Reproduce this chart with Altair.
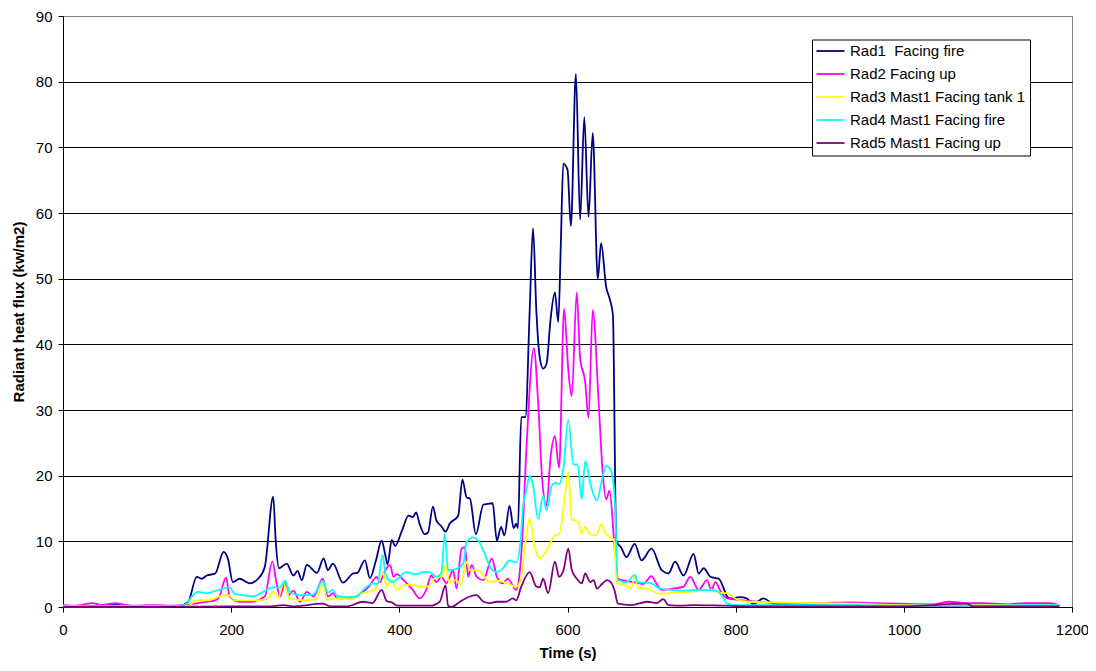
import altair as alt
import pandas as pd

series_names = [
    "Rad1\u00a0 Facing fire",
    "Rad2 Facing up",
    "Rad3 Mast1 Facing tank 1",
    "Rad4 Mast1 Facing fire",
    "Rad5 Mast1 Facing up",
]
series_colors = ["#000080", "#FF00FF", "#FFFF00", "#00FFFF", "#800080"]

x_ticks = [0, 200, 400, 600, 800, 1000, 1200]
y_ticks = [0, 10, 20, 30, 40, 50, 60, 70, 80, 90]

# (time s, radiant heat flux kW/m2)
rad1 = [(0, 0.2), (20, 0.1), (40, 0.2), (60, 0.4), (79, 0.1), (99, 0.2), (119, 0.1), (139, 0.2),
        (149, 0.8), (159, 4.6), (165, 4.3), (171, 4.8), (181, 5.1), (191, 8.4), (196, 7.4), (202, 3.8),
        (210, 4.3), (222, 3.6), (232, 4.3), (240, 6.1), (250, 16.8), (253, 10), (257, 5.9), (266, 6.6),
        (274, 4.8), (279, 5.5), (284, 4.1), (290, 6.4), (302, 5.2), (310, 7.4), (315, 5.6), (321, 6.6),
        (333, 3.7), (345, 5.1), (350, 5.2), (359, 7.1), (365, 4.4), (372, 7.0), (379, 10.1), (383, 8.1),
        (386, 6.5), (391, 10.2), (395, 9.3), (403, 11.6), (411, 13.9), (416, 13.7), (420, 14.4), (424, 12.7),
        (430, 11.1), (434, 11.3), (440, 15.3), (444, 13.2), (450, 12.3), (455, 11.5), (460, 12.7), (470, 13.9),
        (475, 19.4), (480, 16.7), (484, 16.5), (491, 11.1), (500, 15.6), (505, 15.7), (511, 15.8), (516, 10.1),
        (521, 12.2), (525, 10.9), (531, 15.4), (536, 12.0), (539, 12.7), (541, 12.0), (545, 28.9), (550, 28.9),
        (555, 45), (559, 57.7), (563, 45), (567, 38), (571, 36.3), (575, 37), (580, 44), (585, 47.9),
        (589, 43.4), (592, 55), (595, 67.5), (600, 66.6), (604, 58), (610, 81.2), (615, 59), (620, 74.6),
        (625, 59.4), (630, 72.2), (636, 50), (640, 55.4), (646, 48.7), (650, 47), (654, 44.5), (658, 10.1),
        (664, 9), (670, 7.6), (680, 9.6), (688, 7.1), (700, 8.9), (712, 5.6), (720, 5.1), (728, 6.9),
        (738, 4.8), (750, 8.1), (756, 5.1), (762, 5.9), (770, 4.6), (780, 4.3), (785, 3.1), (789, 1.8),
        (793, 1.3), (805, 1.5), (813, 1.3), (821, 0.45), (833, 1.3), (845, 0.5), (865, 0.3), (895, 0.3),
        (944, 0.2), (994, 0.2), (1044, 0.2), (1094, 0.2), (1143, 0.2), (1185, 0.2)]

rad2 = [(0, 0.3), (15, 0.2), (30, 0.5), (36, 0.6), (45, 0.3), (62, 0.6), (75, 0.3), (90, 0.2),
        (109, 0.3), (129, 0.2), (144, 0.3), (161, 0.6), (171, 0.8), (181, 1.0), (186, 1.6), (194, 4.5),
        (198, 1.6), (210, 0.8), (223, 0.8), (240, 1.6), (249, 6.9), (254, 3.6), (258, 1.6), (264, 3.6),
        (268, 1.8), (274, 2.5), (282, 0.8), (290, 2.3), (298, 1.6), (309, 4.3), (315, 1.6), (321, 2.1),
        (326, 1.3), (338, 1.3), (349, 1.6), (357, 2.3), (365, 3.3), (373, 4.6), (377, 3.8), (381, 5.0),
        (389, 6.4), (393, 4.6), (397, 5.0), (405, 4.1), (416, 2.6), (424, 1.3), (432, 2.6), (438, 4.8),
        (444, 3.8), (450, 4.6), (456, 3.6), (464, 5.6), (468, 2.8), (474, 8.9), (478, 9.1), (482, 4.6),
        (486, 6.4), (492, 4.6), (500, 4.1), (510, 7.4), (516, 4.6), (523, 3.6), (529, 4.3), (539, 2.6),
        (542, 4.0), (546, 10), (551, 23.7), (560, 39.4), (565, 31.3), (570, 19.2), (575, 15.4), (580, 23),
        (585, 26), (590, 21.2), (596, 45.4), (601, 36), (605, 32.1), (611, 47.9), (615, 37.9), (621, 34.3),
        (625, 28.8), (630, 45.2), (637, 31.3), (642, 20.2), (646, 16.4), (650, 17.7), (656, 9.1), (660, 4.3),
        (668, 4.0), (678, 3.8), (690, 3.5), (700, 4.7), (706, 3.5), (712, 2.6), (726, 2.8), (738, 3.1),
        (746, 4.6), (756, 2.6), (766, 4.1), (771, 2.6), (776, 3.8), (782, 2.4), (790, 1.3), (802, 1.1),
        (825, 0.8), (855, 0.6), (895, 0.6), (935, 0.7), (965, 0.6), (994, 0.5), (1034, 0.4), (1054, 0.8),
        (1074, 0.6), (1094, 0.6), (1123, 0.4), (1143, 0.6), (1173, 0.6), (1185, 0.3)]

rad3 = [(0, 0.1), (50, 0.1), (99, 0.1), (149, 0.2), (159, 1.0), (171, 1.0), (186, 1.6), (196, 1.8),
        (206, 1.0), (228, 1.0), (243, 1.2), (250, 2.3), (256, 1.4), (262, 3.6), (270, 1.3), (288, 1.0),
        (301, 1.2), (309, 3.6), (314, 1.1), (323, 1.3), (343, 1.2), (357, 2.1), (370, 2.6), (381, 5.1),
        (385, 3.1), (391, 4.1), (397, 2.6), (405, 3.3), (414, 3.4), (424, 3.1), (434, 3.1), (444, 4.6),
        (450, 4.6), (455, 6.4), (459, 3.8), (467, 4.1), (473, 3.4), (480, 6.9), (484, 5.6), (494, 5.6),
        (500, 4.8), (508, 3.8), (516, 4.0), (524, 3.8), (539, 3.1), (544, 4.0), (550, 10), (555, 13.4),
        (561, 9.1), (567, 7.4), (575, 8.6), (585, 10.9), (590, 11.1), (596, 15.7), (601, 20.5), (605, 13.4),
        (613, 12.9), (617, 11.2), (621, 12.2), (627, 11.1), (634, 10.9), (640, 12.6), (646, 11.1), (651, 10.6),
        (655, 10.3), (659, 3.6), (668, 3.4), (676, 2.8), (680, 4.6), (684, 2.9), (695, 2.8), (710, 2.0),
        (726, 2.2), (746, 2.3), (770, 2.6), (780, 2.2), (790, 2.1), (802, 1.1), (815, 0.8), (845, 0.7),
        (895, 0.6), (944, 0.5), (994, 0.3), (1044, 0.3), (1094, 0.3), (1143, 0.3), (1185, 0.3)]

rad4 = [(0, 0.2), (30, 0.1), (60, 0.2), (89, 0.1), (119, 0.1), (144, 0.3), (157, 2.1), (161, 2.3),
        (171, 2.1), (182, 2.5), (190, 2.8), (198, 3.0), (204, 2.0), (214, 1.8), (226, 1.6), (238, 2.3),
        (250, 3.0), (258, 3.0), (264, 4.0), (270, 2.2), (282, 1.8), (298, 1.9), (309, 4.0), (315, 2.2),
        (321, 2.6), (326, 1.7), (338, 1.5), (349, 1.6), (357, 2.6), (369, 3.6), (374, 3.5), (380, 7.9),
        (384, 4.8), (392, 3.8), (400, 4.5), (408, 5.3), (420, 5.0), (428, 5.3), (436, 5.3), (444, 4.6),
        (450, 5.2), (454, 11.1), (458, 5.6), (468, 5.8), (476, 6.6), (480, 9.9), (488, 10.6), (494, 10.1),
        (500, 8.6), (508, 6.1), (516, 5.3), (524, 6.0), (531, 7.1), (539, 6.8), (544, 9.9), (547, 15.2),
        (551, 17.7), (555, 20.0), (559, 18.5), (565, 13.4), (571, 16.9), (575, 14.7), (581, 18.4), (585, 18.9),
        (590, 18.7), (595, 21.0), (601, 28.5), (607, 21.7), (612, 21.7), (617, 16.4), (621, 22.2), (627, 18.9),
        (630, 17.5), (635, 16.2), (641, 19.4), (646, 21.5), (651, 21.0), (656, 16.7), (660, 4.1), (670, 3.8),
        (680, 4.9), (684, 3.8), (700, 3.6), (710, 2.8), (738, 2.5), (758, 2.6), (776, 2.5), (785, 1.5),
        (789, 0.55), (801, 0.3), (845, 0.3), (895, 0.3), (944, 0.3), (994, 0.2), (1044, 0.3), (1094, 0.2),
        (1143, 0.3), (1185, 0.3)]

rad5 = [(0, 0), (99, 0), (198, 0.1), (248, 0.1), (262, 0.3), (273, 0.1), (309, 0.5), (318, 0.1),
        (338, 0.1), (357, 0.8), (368, 0.6), (379, 2.6), (385, 0.9), (391, 0.7), (398, 0.2), (417, 0.2),
        (437, 0.2), (448, 0.8), (455, 3.3), (458, 0.2), (462, 0), (472, 0.8), (484, 1.6), (492, 1.8),
        (500, 0.8), (508, 0.6), (516, 0.8), (527, 0.8), (535, 1.3), (539, 1.0), (545, 3.1), (555, 5.3),
        (563, 3.1), (567, 3.0), (571, 4.3), (577, 2.1), (585, 6.9), (590, 4.6), (595, 5.5), (601, 8.9),
        (605, 5.7), (611, 4.3), (617, 3.6), (621, 5.1), (627, 3.8), (631, 4.1), (635, 2.8), (641, 3.5),
        (647, 4.1), (652, 3.7), (656, 2.5), (660, 0.5), (676, 0.3), (695, 0.8), (706, 0.6), (714, 1.2),
        (720, 0.3), (736, 0.2), (750, 0.3), (785, 0.2), (815, 0.1), (895, 0.1), (994, 0.1), (1074, 0.5),
        (1083, 0.1), (1185, 0.1)]

rows = []
for idx, (name, pts) in enumerate(zip(series_names, [rad1, rad2, rad3, rad4, rad5])):
    for t, v in pts:
        rows.append({"series": name, "time": t, "flux": v, "k": idx})
df = pd.DataFrame(rows)

FONT = "Liberation Sans, Arial, sans-serif"

chart = alt.Chart(df).mark_line(strokeWidth=1.8, interpolate="monotone").encode(
    x=alt.X("time:Q",
            scale=alt.Scale(domain=[0, 1200], nice=False, zero=False),
            axis=alt.Axis(values=x_ticks, title="Time (s)", grid=False, format="d",
                          labelFlush=False, labelOverlap=False,
                          labelPadding=10, titlePadding=8)),
    y=alt.Y("flux:Q",
            scale=alt.Scale(domain=[0, 90], nice=False),
            axis=alt.Axis(values=y_ticks, title="Radiant heat flux (kw/m2)", format="d",
                          grid=True, labelPadding=6, labelFlush=False, labelOverlap=False,
                          titleX=-40, titleBaseline="alphabetic",
                          gridColor={"condition": {"test": "datum.value === 90", "value": "#808080"},
                                     "value": "#000000"})),
    color=alt.Color("series:N",
                    scale=alt.Scale(domain=series_names, range=series_colors),
                    legend=alt.Legend(title=None, orient="none", legendX=749, legendY=23.5,
                                      strokeColor="#000000", fillColor="#ffffff", padding=4,
                                      symbolType="M-2.8,0H2.8", symbolSize=100,
                                      symbolStrokeWidth=1.8, symbolOffset=7, labelOffset=12,
                                      labelFontSize=15, labelFont=FONT, labelColor="#000000",
                                      rowPadding=7, labelLimit=400)),
    order=alt.Order("k:Q"),
    detail="series:N",
).properties(
    width=1009, height=591,
    background="#ffffff",
    autosize=alt.AutoSizeParams(type="none"),
    padding={"left": 55, "top": 8, "right": 16, "bottom": 56},
).configure_view(
    stroke="#808080", strokeWidth=1
).configure_axis(
    domainColor="#000000", tickColor="#000000", tickSize=5,
    labelFont=FONT, labelFontSize=15, labelColor="#000000",
    titleFont=FONT, titleFontSize=15, titleFontWeight="bold", titleColor="#000000",
    gridWidth=1
)

chart.save("out.html", embed_options={"renderer": "svg", "actions": False})
